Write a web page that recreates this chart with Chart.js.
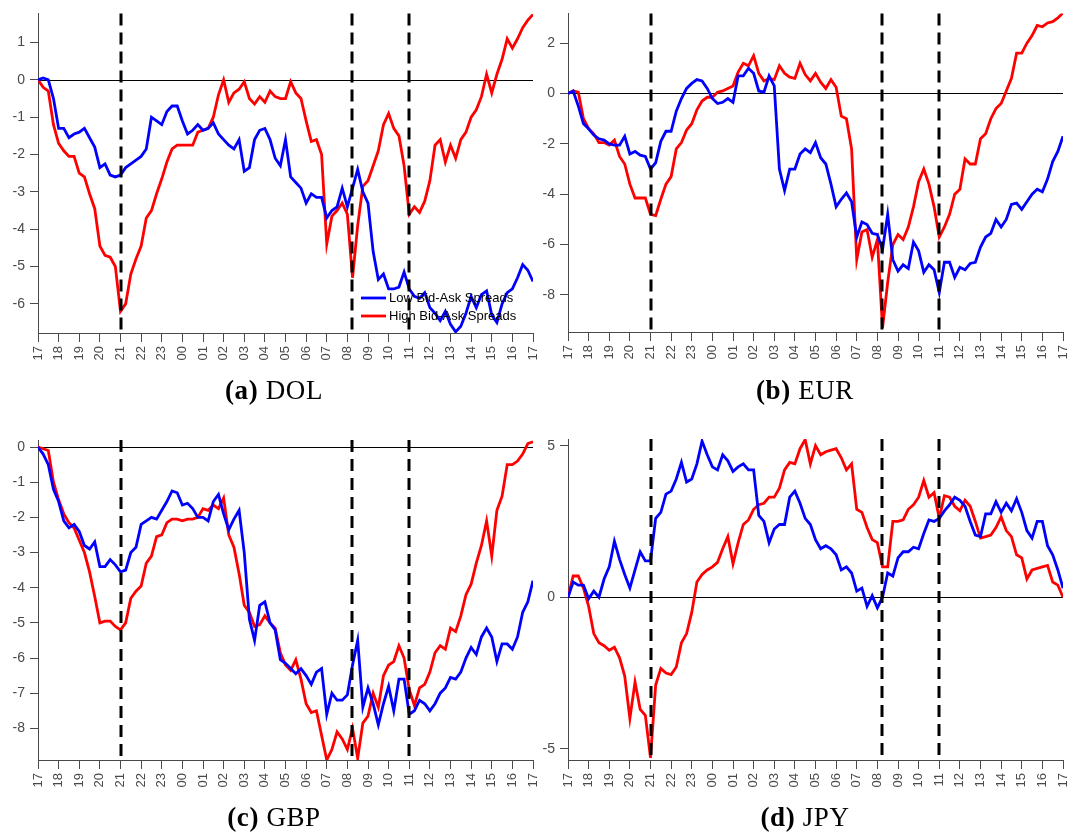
<!DOCTYPE html>
<html>
<head>
<meta charset="utf-8">
<script src="https://cdn.jsdelivr.net/npm/chart.js@4.4.0/dist/chart.umd.min.js"></script>
<style>
html, body { margin: 0; padding: 0; background: #fff; }
#page { position: relative; width: 1073px; height: 834px; overflow: hidden; background: #fff; }
.panel { position: absolute; }
.caption {
    position: absolute;
    font-family: "Liberation Serif", "DejaVu Serif", serif;
    font-size: 27px;
    line-height: 32px;
    letter-spacing: 0.6px;
    color: #000;
    white-space: nowrap;
    transform: translateX(-50%);
}
</style>
</head>
<body>
<div id="page">
    <div class="panel" style="left:0px;top:0px"><canvas id="chartDOL" width="545" height="375"></canvas></div>
    <div class="panel" style="left:533px;top:0px"><canvas id="chartEUR" width="540" height="375"></canvas></div>
    <div class="panel" style="left:0px;top:425px"><canvas id="chartGBP" width="545" height="378"></canvas></div>
    <div class="panel" style="left:533px;top:425px"><canvas id="chartJPY" width="540" height="378"></canvas></div>
    <div class="caption" style="left:274px;top:374px"><b>(a)</b> DOL</div>
    <div class="caption" style="left:805px;top:374px"><b>(b)</b> EUR</div>
    <div class="caption" style="left:274px;top:801px"><b>(c)</b> GBP</div>
    <div class="caption" style="left:805px;top:801px"><b>(d)</b> JPY</div>
</div>
<script>
// Hour labels along the x axis (one per hour, 17:00 to 17:00 next day)
const hourLabels = ['17', '18', '19', '20', '21', '22', '23', '00', '01', '02', '03', '04', '05',
    '06', '07', '08', '09', '10', '11', '12', '13', '14', '15', '16', '17'];

// Vertical dashed event lines, hours after 17:00 (21:00, 08:12, 11:00)
const eventHours = [4, 15.2, 18];

// series are sampled every 15 minutes
const STEP_HOURS = 0.25;

const seriesLabels = ['Low Bid-Ask Spreads', 'High Bid-Ask Spreads'];

// DOL
const dolLow = [
    0.0, 0.05, 0.0, -0.5, -1.3, -1.3, -1.55, -1.45, -1.4, -1.3,
    -1.55, -1.8, -2.35, -2.25, -2.55, -2.6, -2.55, -2.35, -2.25, -2.15,
    -2.05, -1.85, -1.0, -1.1, -1.2, -0.85, -0.7, -0.7, -1.1, -1.45,
    -1.35, -1.2, -1.35, -1.3, -1.15, -1.45, -1.6, -1.75, -1.85, -1.6,
    -2.45, -2.35, -1.6, -1.35, -1.3, -1.6, -2.1, -2.3, -1.6, -2.6,
    -2.75, -2.9, -3.3, -3.05, -3.15, -3.15, -3.7, -3.5, -3.4, -2.9,
    -3.4, -2.9, -2.4, -3.0, -3.3, -4.6, -5.35, -5.2, -5.6, -5.6,
    -5.55, -5.15, -5.6, -5.8, -5.85, -5.7, -6.1, -6.25, -6.45, -6.2,
    -6.55, -6.75, -6.6, -6.25, -5.8, -6.1, -5.75, -5.65, -6.3, -6.5,
    -6.0, -5.7, -5.6, -5.3, -4.95, -5.1, -5.4
];
const dolHigh = [
    0.0, -0.2, -0.3, -1.2, -1.7, -1.9, -2.05, -2.05, -2.5, -2.6,
    -3.05, -3.45, -4.45, -4.7, -4.75, -5.0, -6.2, -6.0, -5.2, -4.8,
    -4.45, -3.7, -3.5, -3.05, -2.65, -2.2, -1.85, -1.75, -1.75, -1.75,
    -1.75, -1.4, -1.35, -1.3, -1.0, -0.4, 0.0, -0.6, -0.35, -0.25,
    -0.05, -0.5, -0.65, -0.45, -0.6, -0.3, -0.45, -0.5, -0.5, -0.05,
    -0.35, -0.5, -1.1, -1.65, -1.6, -2.0, -4.4, -3.65, -3.5, -3.3,
    -3.6, -5.3, -3.9, -2.85, -2.7, -2.3, -1.9, -1.2, -0.9, -1.3,
    -1.5, -2.3, -3.6, -3.4, -3.55, -3.25, -2.7, -1.75, -1.6, -2.2,
    -1.75, -2.1, -1.6, -1.4, -1.0, -0.8, -0.45, 0.15, -0.35, 0.15,
    0.55, 1.1, 0.85, 1.1, 1.4, 1.6, 1.75
];

// EUR
const eurLow = [
    0.0, 0.1, -0.5, -1.2, -1.4, -1.65, -1.8, -1.85, -2.0, -2.05,
    -2.05, -1.7, -2.4, -2.3, -2.45, -2.5, -3.0, -2.75, -1.9, -1.5,
    -1.5, -0.7, -0.2, 0.2, 0.4, 0.55, 0.5, 0.2, -0.2, -0.4,
    -0.35, -0.2, -0.35, 0.7, 0.7, 1.0, 0.8, 0.1, 0.05, 0.7,
    0.3, -3.0, -3.85, -3.0, -3.0, -2.4, -2.2, -2.35, -1.95, -2.55,
    -2.8, -3.6, -4.5, -4.2, -3.95, -4.3, -5.7, -5.1, -5.2, -5.55,
    -5.6, -6.2, -4.8, -6.6, -7.05, -6.8, -6.95, -5.9, -6.25, -7.1,
    -6.8, -7.0, -7.9, -6.7, -6.7, -7.3, -6.9, -7.0, -6.75, -6.7,
    -6.1, -5.7, -5.55, -5.0, -5.3, -5.0, -4.4, -4.35, -4.6, -4.3,
    -4.0, -3.8, -3.9, -3.4, -2.7, -2.3, -1.7
];
const eurHigh = [
    0.0, 0.1, 0.05, -1.0, -1.4, -1.6, -1.95, -1.95, -2.05, -1.85,
    -2.5, -2.8, -3.6, -4.15, -4.15, -4.15, -4.8, -4.85, -4.2, -3.6,
    -3.3, -2.2, -1.95, -1.45, -1.2, -0.65, -0.3, -0.15, -0.15, 0.05,
    0.1, 0.2, 0.3, 0.85, 1.2, 1.1, 1.5, 0.8, 0.5, 0.6,
    0.55, 1.1, 0.8, 0.65, 0.6, 1.2, 0.75, 0.5, 0.8, 0.45,
    0.2, 0.55, 0.25, -0.9, -1.0, -2.2, -6.6, -5.5, -5.4, -6.5,
    -5.8, -9.3, -7.5, -6.0, -5.6, -5.8, -5.3, -4.5, -3.5, -3.0,
    -3.6, -4.5, -5.7, -5.3, -4.8, -4.0, -3.8, -2.6, -2.8, -2.8,
    -1.8, -1.6, -1.0, -0.6, -0.4, 0.1, 0.6, 1.6, 1.6, 2.0,
    2.3, 2.7, 2.65, 2.8, 2.85, 3.0, 3.2
];

// GBP
const gbpLow = [
    0.0, -0.2, -0.5, -1.2, -1.55, -2.1, -2.3, -2.2, -2.4, -2.8,
    -2.9, -2.7, -3.4, -3.4, -3.2, -3.35, -3.55, -3.5, -3.0, -2.85,
    -2.2, -2.1, -2.0, -2.05, -1.8, -1.55, -1.25, -1.3, -1.65, -1.6,
    -1.75, -2.0, -2.0, -2.1, -1.55, -1.35, -1.9, -2.35, -2.05, -1.8,
    -3.0, -4.9, -5.5, -4.5, -4.4, -5.0, -5.2, -6.05, -6.15, -6.3,
    -6.45, -6.3, -6.5, -6.75, -6.4, -6.3, -7.6, -7.0, -7.2, -7.2,
    -7.05, -6.2, -5.5, -7.4, -6.85, -7.3, -7.9, -7.3, -6.8, -7.5,
    -6.6, -6.6, -7.6, -7.5, -7.2, -7.3, -7.5, -7.3, -7.0, -6.85,
    -6.55, -6.6, -6.4, -6.0, -5.7, -5.9, -5.4, -5.15, -5.4, -6.1,
    -5.6, -5.6, -5.75, -5.4, -4.7, -4.4, -3.8
];
const gbpHigh = [
    0.0, -0.05, -0.1, -1.0, -1.5, -1.9, -2.15, -2.3, -2.65, -3.0,
    -3.55, -4.25, -5.0, -4.95, -4.95, -5.1, -5.2, -5.0, -4.3, -4.1,
    -3.95, -3.3, -3.1, -2.55, -2.5, -2.15, -2.05, -2.05, -2.1, -2.05,
    -2.05, -2.0, -1.75, -1.8, -1.65, -1.75, -1.45, -2.5, -2.85, -3.6,
    -4.5, -4.7, -5.1, -5.05, -4.8, -5.0, -5.15, -5.85, -6.2, -6.35,
    -6.05, -6.6, -7.3, -7.55, -7.5, -8.2, -8.9, -8.6, -8.1, -8.3,
    -8.6, -8.0, -8.85, -7.85, -7.65, -7.0, -7.4, -6.5, -6.2, -6.1,
    -5.65, -6.0, -6.9, -7.35, -6.85, -6.75, -6.4, -5.85, -5.65, -5.75,
    -5.15, -5.25, -4.8, -4.2, -3.9, -3.3, -2.8, -2.1, -3.1, -1.8,
    -1.4, -0.5, -0.5, -0.4, -0.2, 0.1, 0.15
];

// JPY
const jpyLow = [
    0.0, 0.5, 0.4, 0.4, -0.05, 0.2, 0.0, 0.6, 1.0, 1.85,
    1.25, 0.75, 0.3, 0.9, 1.5, 1.2, 1.2, 2.6, 2.8, 3.4,
    3.5, 3.9, 4.45, 3.8, 3.9, 4.4, 5.15, 4.7, 4.3, 4.2,
    4.7, 4.5, 4.15, 4.3, 4.4, 4.2, 4.2, 2.7, 2.5, 1.8,
    2.25, 2.4, 2.4, 3.3, 3.5, 3.1, 2.6, 2.4, 1.9, 1.6,
    1.7, 1.6, 1.4, 0.9, 1.0, 0.8, 0.2, 0.3, -0.3, 0.05,
    -0.35, 0.0, 0.8, 0.7, 1.3, 1.5, 1.5, 1.65, 1.6, 2.1,
    2.55, 2.5, 2.6, 2.85, 3.05, 3.3, 3.2, 3.0, 2.5, 2.05,
    2.0, 2.75, 2.75, 3.15, 2.8, 3.1, 2.85, 3.25, 2.8, 2.2,
    1.95, 2.5, 2.5, 1.7, 1.4, 0.9, 0.3
];
const jpyHigh = [
    0.0, 0.7, 0.7, 0.3, -0.3, -1.2, -1.5, -1.6, -1.75, -1.65,
    -2.0, -2.6, -4.0, -2.8, -3.7, -3.9, -5.3, -2.9, -2.35, -2.5,
    -2.55, -2.3, -1.5, -1.2, -0.5, 0.5, 0.75, 0.9, 1.0, 1.15,
    1.6, 2.0, 1.1, 1.8, 2.4, 2.55, 2.9, 3.05, 3.1, 3.3,
    3.3, 3.6, 4.2, 4.45, 4.4, 4.9, 5.2, 4.4, 5.0, 4.7,
    4.8, 4.85, 4.9, 4.6, 4.2, 4.4, 2.9, 2.8, 2.3, 1.9,
    1.8, 1.0, 1.0, 2.5, 2.5, 2.55, 2.9, 3.05, 3.3, 3.85,
    3.3, 3.45, 2.6, 3.35, 3.3, 3.0, 2.85, 3.2, 3.0, 2.5,
    1.95, 2.0, 2.05, 2.3, 2.65, 2.2, 2.0, 1.4, 1.3, 0.6,
    0.9, 0.95, 1.0, 1.05, 0.5, 0.4, 0.0
];

const LOW_COLOR = '#0000ff';
const HIGH_COLOR = '#ff0000';
const AXIS_COLOR = '#4a4a4a';
const TICK_FONT = '"Liberation Sans", Arial, Helvetica, sans-serif';

// zero line, dashed event lines and the in-plot legend
const overlayPlugin = {
    id: 'overlay',
    beforeDatasetsDraw(chart) {
        const { ctx, chartArea, scales } = chart;
        const y0 = Math.round(scales.y.getPixelForValue(0)) + 0.5;
        ctx.save();
        ctx.strokeStyle = '#000';
        ctx.lineWidth = 1;
        ctx.beginPath();
        ctx.moveTo(chartArea.left, y0);
        ctx.lineTo(chartArea.right, y0);
        ctx.stroke();
        ctx.restore();
    },
    afterDatasetsDraw(chart, args, opts) {
        const { ctx, chartArea, scales } = chart;
        ctx.save();
        ctx.strokeStyle = '#000';
        ctx.lineWidth = 3;
        ctx.setLineDash([12, 7]);
        eventHours.forEach(h => {
            const x = Math.round(scales.x.getPixelForValue(h));
            ctx.beginPath();
            ctx.moveTo(x, chartArea.top);
            ctx.lineTo(x, chartArea.bottom);
            ctx.stroke();
        });
        ctx.setLineDash([]);

        if (opts.legend) {
            const x0 = chartArea.right - 172;
            let y = chartArea.bottom - 35;
            ctx.font = '13px ' + TICK_FONT;
            ctx.textBaseline = 'middle';
            ctx.textAlign = 'left';
            chart.data.datasets.forEach(ds => {
                ctx.strokeStyle = ds.borderColor;
                ctx.lineWidth = 2.8;
                ctx.beginPath();
                ctx.moveTo(x0, y);
                ctx.lineTo(x0 + 25, y);
                ctx.stroke();
                ctx.fillStyle = '#000';
                ctx.fillText(ds.label, x0 + 28, y);
                y += 18;
            });
        }
        ctx.restore();
    }
};

function toPoints(values) {
    return values.map((v, i) => ({ x: i * STEP_HOURS, y: v }));
}

// box: page position of the canvas and of the plot area
function makePanel(id, box, low, high, yMin, yMax, yStep, showLegend) {
    const canvas = document.getElementById(id);
    const W = canvas.width, H = canvas.height;
    const xAxisHeight = 40;
    const yAxisWidth = box.areaLeft - box.left;

    return new Chart(canvas.getContext('2d'), {
        type: 'line',
        data: {
            datasets: [
                { label: seriesLabels[0], data: toPoints(low), borderColor: LOW_COLOR, backgroundColor: LOW_COLOR },
                { label: seriesLabels[1], data: toPoints(high), borderColor: HIGH_COLOR, backgroundColor: HIGH_COLOR }
            ]
        },
        options: {
            responsive: false,
            animation: false,
            devicePixelRatio: 1,
            layout: {
                padding: {
                    left: 0,
                    top: box.areaTop - box.top,
                    right: box.left + W - box.areaRight,
                    bottom: box.top + H - box.areaBottom - xAxisHeight
                }
            },
            elements: {
                point: { radius: 0 },
                line: { tension: 0, borderWidth: 2.8, fill: false }
            },
            plugins: {
                legend: { display: false },
                tooltip: { enabled: false },
                overlay: { legend: showLegend }
            },
            scales: {
                x: {
                    type: 'linear',
                    min: 0,
                    max: 24,
                    afterFit(scale) {
                        scale.height = xAxisHeight;
                        // the layout padding already leaves room for the end labels
                        scale.paddingLeft = 0;
                        scale.paddingRight = 0;
                    },
                    afterBuildTicks(scale) {
                        scale.ticks = hourLabels.map((_, i) => ({ value: i }));
                    },
                    ticks: {
                        autoSkip: false,
                        minRotation: 90,
                        maxRotation: 90,
                        padding: 4,
                        color: AXIS_COLOR,
                        font: { family: TICK_FONT, size: 13 },
                        callback: v => hourLabels[Math.round(v)]
                    },
                    grid: { drawOnChartArea: false, drawTicks: true, tickLength: 9, color: AXIS_COLOR },
                    border: { display: true, color: AXIS_COLOR, width: 1 }
                },
                y: {
                    type: 'linear',
                    min: yMin,
                    max: yMax,
                    afterFit(scale) { scale.width = yAxisWidth; },
                    ticks: {
                        stepSize: yStep,
                        includeBounds: false,
                        padding: 5,
                        color: AXIS_COLOR,
                        font: { family: TICK_FONT, size: 14 }
                    },
                    grid: { drawOnChartArea: false, drawTicks: true, tickLength: 8, color: AXIS_COLOR },
                    border: { display: true, color: AXIS_COLOR, width: 1 }
                }
            }
        },
        plugins: [overlayPlugin]
    });
}

document.addEventListener('DOMContentLoaded', () => {
    makePanel('chartDOL', { left: 0, top: 0, areaLeft: 38, areaRight: 533, areaTop: 10, areaBottom: 333 },
        dolLow, dolHigh, -6.78, 1.78, 1, true);
    makePanel('chartEUR', { left: 533, top: 0, areaLeft: 568, areaRight: 1063, areaTop: 11, areaBottom: 332 },
        eurLow, eurHigh, -9.47, 3.18, 2, false);
    makePanel('chartGBP', { left: 0, top: 425, areaLeft: 38, areaRight: 533, areaTop: 440, areaBottom: 760 },
        gbpLow, gbpHigh, -8.9, 0.2, 1, false);
    makePanel('chartJPY', { left: 533, top: 425, areaLeft: 568, areaRight: 1063, areaTop: 439, areaBottom: 760 },
        jpyLow, jpyHigh, -5.37, 5.22, 5, false);
});
</script>
</body>
</html>
